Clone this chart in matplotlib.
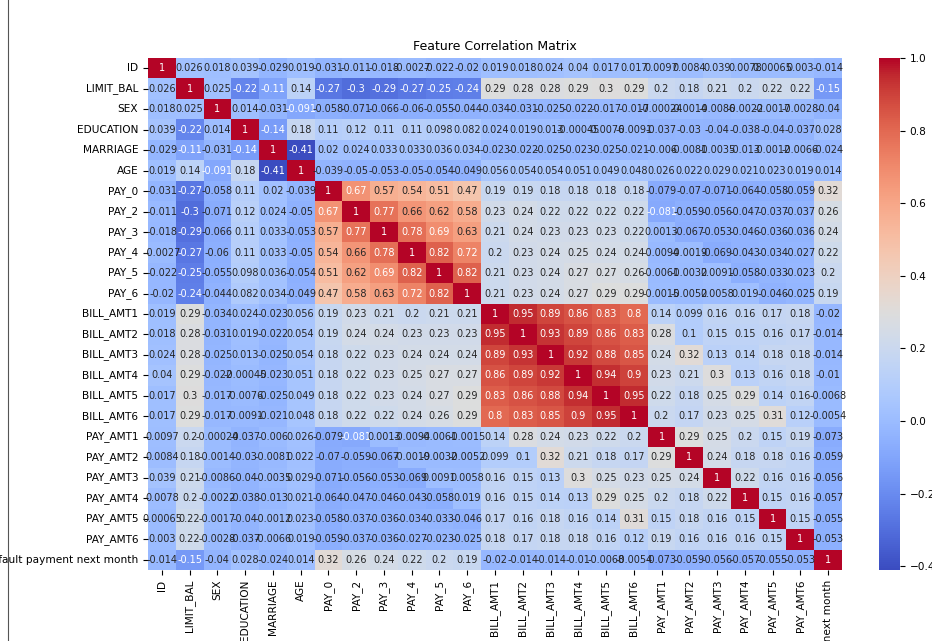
import matplotlib
matplotlib.use("Agg")
import matplotlib.pyplot as plt
from matplotlib.lines import Line2D
import numpy as np
import pandas as pd
import seaborn as sns

labels = ["ID", "LIMIT_BAL", "SEX", "EDUCATION", "MARRIAGE", "AGE",
          "PAY_0", "PAY_2", "PAY_3", "PAY_4", "PAY_5", "PAY_6",
          "BILL_AMT1", "BILL_AMT2", "BILL_AMT3", "BILL_AMT4", "BILL_AMT5", "BILL_AMT6",
          "PAY_AMT1", "PAY_AMT2", "PAY_AMT3", "PAY_AMT4", "PAY_AMT5", "PAY_AMT6",
          "default payment next month"]

# upper triangle of the correlation matrix, each row starts at the diagonal
upper = [
    [1, 0.026, 0.018, 0.039, -0.029, 0.019, -0.031, -0.011, -0.018, -0.0027, -0.022, -0.02,
     0.019, 0.018, 0.024, 0.04, 0.017, 0.017, 0.0097, 0.0084, 0.039, 0.0078, 0.00065, 0.003, -0.014],
    [1, 0.025, -0.22, -0.11, 0.14, -0.27, -0.3, -0.29, -0.27, -0.25, -0.24,
     0.29, 0.28, 0.28, 0.29, 0.3, 0.29, 0.2, 0.18, 0.21, 0.2, 0.22, 0.22, -0.15],
    [1, 0.014, -0.031, -0.091, -0.058, -0.071, -0.066, -0.06, -0.055, -0.044,
     -0.034, -0.031, -0.025, -0.022, -0.017, -0.017, -0.00024, -0.0014, -0.0086, -0.0022, -0.0017, -0.0028, -0.04],
    [1, -0.14, 0.18, 0.11, 0.12, 0.11, 0.11, 0.098, 0.082,
     0.024, 0.019, 0.013, -0.00045, -0.0076, -0.0091, -0.037, -0.03, -0.04, -0.038, -0.04, -0.037, 0.028],
    [1, -0.41, 0.02, 0.024, 0.033, 0.033, 0.036, 0.034,
     -0.023, -0.022, -0.025, -0.023, -0.025, -0.021, -0.006, -0.0081, -0.0035, -0.013, -0.0012, -0.0066, -0.024],
    [1, -0.039, -0.05, -0.053, -0.05, -0.054, -0.049,
     0.056, 0.054, 0.054, 0.051, 0.049, 0.048, 0.026, 0.022, 0.029, 0.021, 0.023, 0.019, 0.014],
    [1, 0.67, 0.57, 0.54, 0.51, 0.47, 0.19, 0.19, 0.18, 0.18, 0.18, 0.18,
     -0.079, -0.07, -0.071, -0.064, -0.058, -0.059, 0.32],
    [1, 0.77, 0.66, 0.62, 0.58, 0.23, 0.24, 0.22, 0.22, 0.22, 0.22,
     -0.081, -0.059, -0.056, -0.047, -0.037, -0.037, 0.26],
    [1, 0.78, 0.69, 0.63, 0.21, 0.24, 0.23, 0.23, 0.23, 0.22,
     0.0013, -0.067, -0.053, -0.046, -0.036, -0.036, 0.24],
    [1, 0.82, 0.72, 0.2, 0.23, 0.24, 0.25, 0.24, 0.24,
     -0.0094, -0.0019, -0.069, -0.043, -0.034, -0.027, 0.22],
    [1, 0.82, 0.21, 0.23, 0.24, 0.27, 0.27, 0.26,
     -0.0061, -0.0032, 0.0091, -0.058, -0.033, -0.023, 0.2],
    [1, 0.21, 0.23, 0.24, 0.27, 0.29, 0.29,
     -0.0015, -0.0052, 0.0058, 0.019, -0.046, -0.025, 0.19],
    [1, 0.95, 0.89, 0.86, 0.83, 0.8, 0.14, 0.099, 0.16, 0.16, 0.17, 0.18, -0.02],
    [1, 0.93, 0.89, 0.86, 0.83, 0.28, 0.1, 0.15, 0.15, 0.16, 0.17, -0.014],
    [1, 0.92, 0.88, 0.85, 0.24, 0.32, 0.13, 0.14, 0.18, 0.18, -0.014],
    [1, 0.94, 0.9, 0.23, 0.21, 0.3, 0.13, 0.16, 0.18, -0.01],
    [1, 0.95, 0.22, 0.18, 0.25, 0.29, 0.14, 0.16, -0.0068],
    [1, 0.2, 0.17, 0.23, 0.25, 0.31, 0.12, -0.0054],
    [1, 0.29, 0.25, 0.2, 0.15, 0.19, -0.073],
    [1, 0.24, 0.18, 0.18, 0.16, -0.059],
    [1, 0.22, 0.16, 0.16, -0.056],
    [1, 0.15, 0.16, -0.057],
    [1, 0.15, -0.055],
    [1, -0.053],
    [1],
]

n = len(labels)
mat = np.zeros((n, n))
for i, row in enumerate(upper):
    mat[i, i:] = row
    mat[i:, i] = row
corr = pd.DataFrame(mat, index=labels, columns=labels)

fig = plt.figure(figsize=(9.32, 6.41), dpi=100)
W, H = 932, 641
ax = fig.add_axes([148 / W, 1 - 570 / H, (842 - 148) / W, (570 - 58) / H])
cax = fig.add_axes([879 / W, 1 - 570 / H, 21 / W, (570 - 58) / H])

sns.heatmap(corr, annot=True, fmt=".2g", cmap="coolwarm", ax=ax, cbar_ax=cax,
            annot_kws={"fontsize": 7.0})
ax.set_title("Feature Correlation Matrix", fontsize=9)
ax.tick_params(labelsize=7.6)
cax.tick_params(labelsize=7.6)
ax.set_xticklabels(labels, rotation=90)
ax.set_yticklabels(labels, rotation=0)

fig.add_artist(Line2D([8 / W, 8 / W], [0, 1], color="#555555", lw=0.8))

plt.savefig("out.png", dpi=100)
